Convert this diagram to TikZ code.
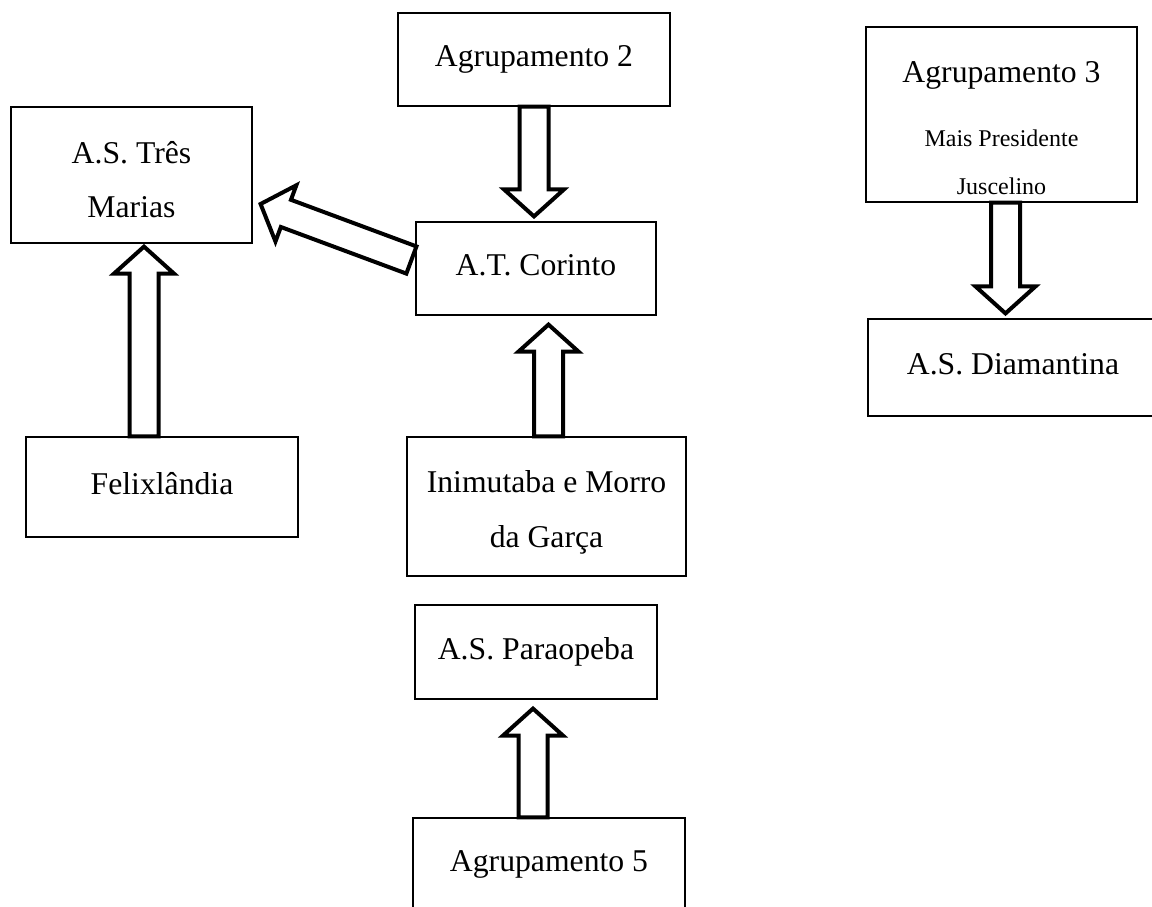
\documentclass[tikz,border=0pt]{standalone}
\usepackage{fontspec}
\setmainfont{Liberation Serif}
\usetikzlibrary{calc}

\newcommand{\toppad}[1]{\rule{0pt}{#1}}
\newcommand{\fatarrow}[2]{%
  \coordinate (fa-h) at ($(#2)!27pt!(#1)$);
  \draw[fat] ($(#1)!14.5pt!90:(#2)$) -- ($(fa-h)!14.5pt!90:(#2)$)
    -- ($(fa-h)!30pt!90:(#2)$) -- (#2)
    -- ($(fa-h)!30pt!-90:(#2)$) -- ($(fa-h)!14.5pt!-90:(#2)$)
    -- ($(#1)!14.5pt!-90:(#2)$) -- cycle;
}

\begin{document}
\begin{tikzpicture}[x=1pt,y=-1pt,
  every node/.style={font=\fontsize{31.7}{54}\selectfont},
  box/.style={draw, line width=1.2pt, align=center, inner sep=0pt},
  one/.style={box, text height=22.2pt, text depth=8.2pt},
  fat/.style={draw, fill=white, line width=4pt, line join=miter}]
  \useasboundingbox (0,0) rectangle (1152,907);
  \clip (0,0) rectangle (1152,907);

  \node[box, minimum width=241pt, minimum height=136pt] (tres) at (131.5,175)
    {\toppad{32pt}A.S. Três\\Marias};
  \node[one, minimum width=272pt, minimum height=93pt] (agr2) at (534,59.5) {Agrupamento 2};
  \node[one, minimum width=240pt, minimum height=93pt] (corinto) at (536,268.5) {A.T. Corinto};
  \node[box, minimum width=271pt, minimum height=175pt,
    font=\fontsize{31.7}{48}\selectfont] (agr3) at (1001.5,114.5)
    {\toppad{49pt}Agrupamento 3\\[16pt]{\fontsize{24}{48}\selectfont Mais Presidente}\\
     {\fontsize{24}{48}\selectfont Juscelino}};
  \node[one, minimum width=290pt, minimum height=97pt] (diam) at (1013,367.5) {A.S. Diamantina};
  \node[one, minimum width=272pt, minimum height=100pt] (felix) at (162,487) {Felixlândia};
  \node[box, minimum width=279pt, minimum height=139pt,
    font=\fontsize{31.7}{55}\selectfont] (inim) at (546.5,506.5)
    {\toppad{34pt}Inimutaba e Morro\\da Garça};
  \node[one, minimum width=242pt, minimum height=94pt] (para) at (536,652) {A.S. Paraopeba};
  \node[one, minimum width=272pt, minimum height=93pt] (agr5) at (549,864.5) {Agrupamento 5};

  \coordinate (t1) at ($(agr2.south |- corinto.north)+(0,-5)$);
  \coordinate (s2) at ($(agr3.south)+(4,0)$);
  \coordinate (t2) at ($(s2 |- diam.north)+(0,-5)$);
  \coordinate (t3) at ($(tres.south)+(12.5,3)$);
  \coordinate (s3) at (t3 |- felix.north);
  \coordinate (s4) at ($(inim.north)+(2,0)$);
  \coordinate (t4) at ($(s4 |- corinto.south)+(0,9)$);
  \coordinate (t5) at ($(para.south)+(-3,9)$);
  \coordinate (s5) at (t5 |- agr5.north);
  \coordinate (s6) at ($(corinto.west)+(-4,-8.5)$);
  \coordinate (t6) at ($(tres.east)+(8,29)$);

  \fatarrow{agr2.south}{t1}
  \fatarrow{s2}{t2}
  \fatarrow{s3}{t3}
  \fatarrow{s4}{t4}
  \fatarrow{s5}{t5}
  \fatarrow{s6}{t6}
\end{tikzpicture}
\end{document}
